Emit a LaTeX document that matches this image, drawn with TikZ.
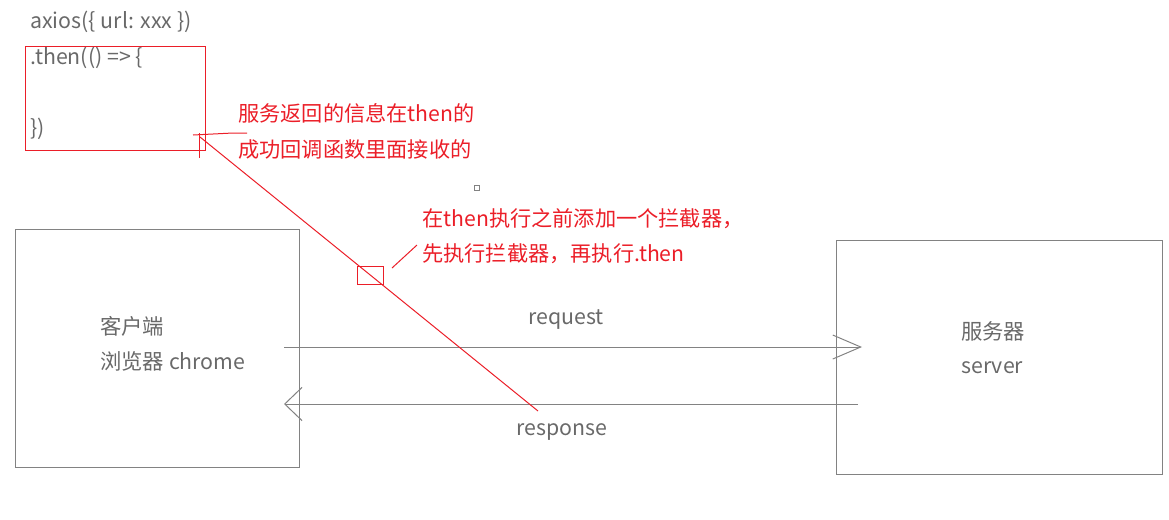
\documentclass[tikz,border=0pt]{standalone}
\usepackage{fontspec}
\setmainfont{Noto Sans CJK SC}
\usetikzlibrary{arrows.meta}
\definecolor{txtgray}{RGB}{105,105,105}
\definecolor{linegray}{RGB}{130,130,130}
\definecolor{markred}{RGB}{235,30,40}

\begin{document}
\begin{tikzpicture}[x=0.75pt,y=-0.75pt,
    code/.style={anchor=base west, inner sep=0pt, text=txtgray, font=\fontsize{16}{18}\selectfont},
    note/.style={anchor=base west, inner sep=0pt, text=markred, font=\fontsize{15.9}{19}\selectfont},
    box/.style={draw=linegray, line width=0.75pt},
    redline/.style={draw=markred, line width=0.75pt}
  ]
  \useasboundingbox (0,0) rectangle (1169,519);

  % code snippet
  \node[code] (axios) at (30,28) {axios(\{ url: xxx \})};
  \node[code] (then) at (30,64) {.then(() => \{};
  \node[code] (close) at (30,135) {\})};
  \draw[redline] (25,46) rectangle (205,150);

  % notes
  \node[note] (note1) at (238,121) {服务返回的信息在then的};
  \node[note] (note2) at (238,157) {成功回调函数里面接收的};
  \node[note] (note3) at (422,226) {在then执行之前添加一个拦截器，};
  \node[note] (note4) at (422,261) {先执行拦截器，再执行.then};

  % client and server
  \draw[box] (15,229) rectangle (299,467);
  \draw[box] (836,240) rectangle (1162,474);
  \node[code] (client) at (100,334) {客户端};
  \node[code] (browser) at (100,369) {浏览器 chrome};
  \node[code] (srvcn) at (961,339) {服务器};
  \node[code] (server) at (961,373) {server};
  \draw[box] (474,185) rectangle (479,190);

  % request / response
  \coordinate (reqA) at (284,347);
  \coordinate (reqB) at (862,347);
  \coordinate (resA) at (858,404);
  \coordinate (resB) at (284,404);
  \draw[box, -{Straight Barb[length=21pt, width=18pt]}] (reqA) -- (reqB);
  \draw[box, -{Straight Barb[length=13pt, width=25pt]}] (resA) -- (resB);
  \node[code, anchor=base] (req) at (566,324) {request};
  \node[code, anchor=base] (res) at (562,435) {response};

  % interceptor mark
  \coordinate (hookA) at (200,137);
  \coordinate (hookB) at (538,411);
  \draw[redline] (193,135) -- (233,133) -- (247,133);
  \draw[redline] (199,133) -- (199,158);
  \draw[redline] (hookA) -- (hookB);
  \draw[redline] (357,266) rectangle (383,284);
  \draw[redline] (392,268) -- (417,245);
\end{tikzpicture}
\end{document}
